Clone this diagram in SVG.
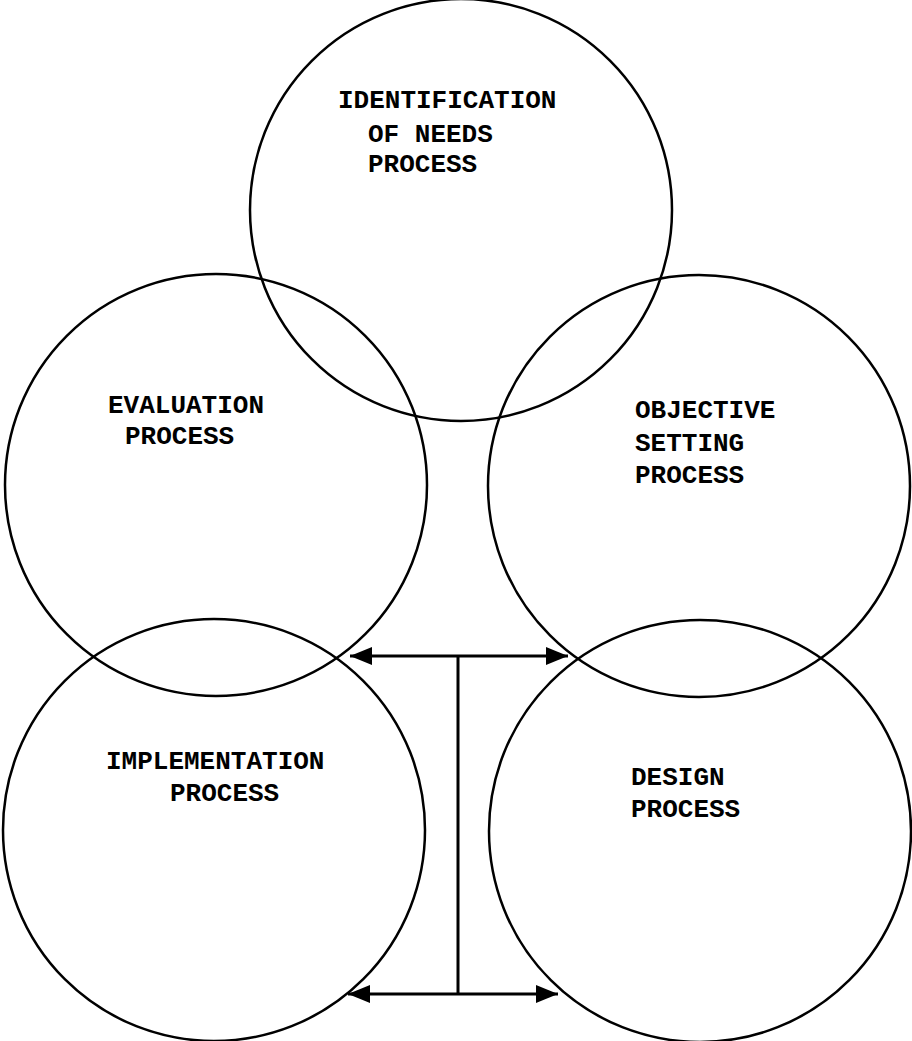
<svg xmlns="http://www.w3.org/2000/svg" width="912" height="1041" viewBox="0 0 912 1041">
<style>
.c{fill:none;stroke:#000;stroke-width:2.5}
.t{font-family:"Liberation Mono","Courier New",monospace;font-size:26px;font-weight:bold;fill:#000}
.l{stroke:#000;stroke-width:3;fill:none}
</style>
<defs>
<marker id="ah" markerUnits="userSpaceOnUse" markerWidth="24" markerHeight="20" refX="22" refY="9" orient="auto-start-reverse">
<path d="M0,0 L22,9 L0,18 Z" fill="#000"/>
</marker>
</defs>
<rect width="912" height="1041" fill="#fff"/>
<g id="identification">
<circle class="c" cx="461" cy="210" r="211"/>
<text class="t" x="338" y="108">IDENTIFICATION</text>
<text class="t" x="368" y="142">OF NEEDS</text>
<text class="t" x="368" y="172">PROCESS</text>
</g>
<g id="evaluation">
<circle class="c" cx="216" cy="485" r="211"/>
<text class="t" x="108" y="413">EVALUATION</text>
<text class="t" x="125" y="444">PROCESS</text>
</g>
<g id="objective">
<circle class="c" cx="699" cy="486" r="211"/>
<text class="t" x="635" y="418">OBJECTIVE</text>
<text class="t" x="635" y="451">SETTING</text>
<text class="t" x="635" y="483">PROCESS</text>
</g>
<g id="implementation">
<circle class="c" cx="214" cy="830" r="211"/>
<text class="t" x="106" y="769">IMPLEMENTATION</text>
<text class="t" x="170" y="801">PROCESS</text>
</g>
<g id="design">
<circle class="c" cx="700" cy="831" r="211"/>
<text class="t" x="631" y="785">DESIGN</text>
<text class="t" x="631" y="817">PROCESS</text>
</g>
<g id="connectors">
<line class="l" x1="350" y1="656" x2="568" y2="656" marker-start="url(#ah)" marker-end="url(#ah)"/>
<line class="l" x1="458" y1="656" x2="458" y2="994"/>
<line class="l" x1="348" y1="994" x2="558" y2="994" marker-start="url(#ah)" marker-end="url(#ah)"/>
</g>
</svg>
